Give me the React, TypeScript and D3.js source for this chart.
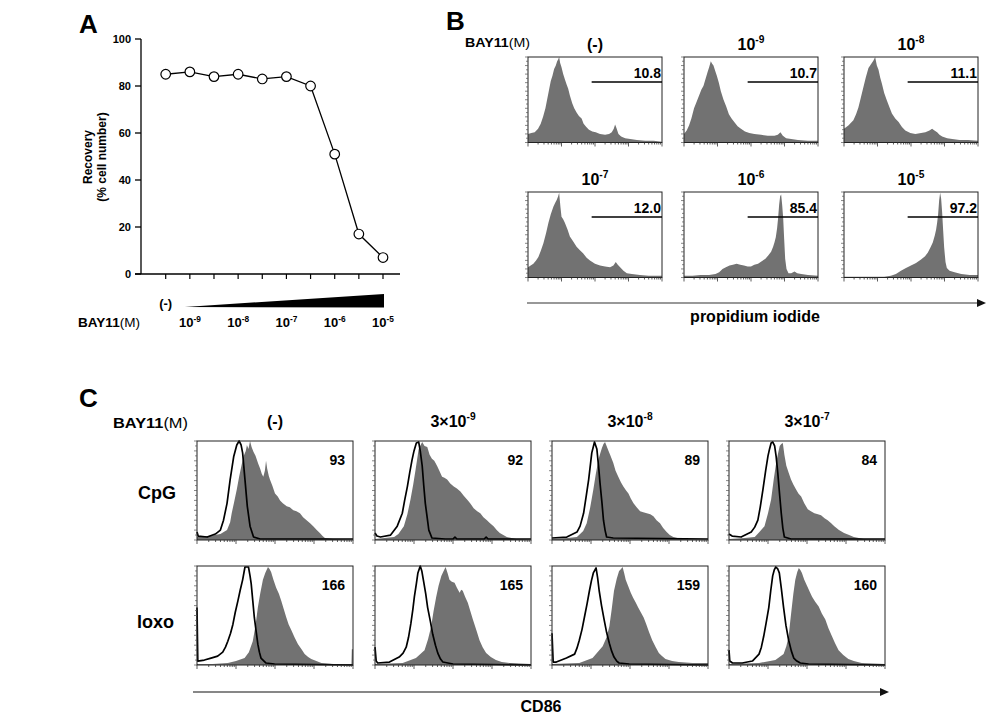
import React from "react";
import * as d3 from "d3";

const FONT = "'Liberation Sans', Arial, Helvetica, sans-serif";

// ---------- Panel A data ----------
const bayConc = [0, 1e-9, 3e-9, 1e-8, 3e-8, 1e-7, 3e-7, 1e-6, 3e-6, 1e-5];
const recovery = [85, 86, 84, 85, 83, 84, 80, 51, 17, 7];
const recoveryTicks = [0, 20, 40, 60, 80, 100];

// ---------- Panel B data (PI histograms: [log decade, % of max]) ----------
const piTitles = ["(-)", "-9", "-8", "-7", "-6", "-5"];
const piGates = ["10.8", "10.7", "11.1", "12.0", "85.4", "97.2"];
const piGateStart = 1.9;
const piNone = [[0,10],[0.1,11],[0.2,12],[0.3,16],[0.38,22],[0.45,30],[0.52,40],[0.58,52],[0.63,62],[0.68,72],[0.73,78],[0.78,86],[0.83,90],[0.87,95],[0.9,97],[0.93,100],[0.96,93],[1.0,88],[1.05,80],[1.1,74],[1.15,68],[1.2,63],[1.25,55],[1.32,46],[1.38,40],[1.45,35],[1.52,31],[1.6,28],[1.66,22],[1.74,18],[1.82,15],[1.92,13],[2.02,12],[2.15,10],[2.3,9],[2.42,10],[2.5,12],[2.56,16],[2.6,21],[2.64,17],[2.7,10],[2.78,7],[2.9,5],[3.05,4],[3.25,3],[3.5,2],[3.75,2],[4,1]];
const pi9 = [[0,10],[0.08,14],[0.15,20],[0.22,28],[0.3,40],[0.38,48],[0.45,55],[0.52,62],[0.58,66],[0.64,74],[0.7,82],[0.75,88],[0.8,95],[0.84,92],[0.88,90],[0.93,84],[0.98,78],[1.04,70],[1.1,60],[1.18,50],[1.26,42],[1.34,33],[1.42,28],[1.5,24],[1.6,19],[1.7,16],[1.82,13],[1.95,11],[2.1,10],[2.3,9],[2.5,8],[2.7,8],[2.8,9],[2.88,12],[2.95,8],[3.05,5],[3.2,4],[3.4,3],[3.7,2],[4,2]];
const pi8 = [[0,16],[0.13,20],[0.28,26],[0.36,33],[0.43,41],[0.5,52],[0.58,65],[0.65,76],[0.73,87],[0.78,90],[0.83,93],[0.88,96],[0.93,100],[0.98,90],[1.03,85],[1.08,76],[1.13,69],[1.2,58],[1.28,49],[1.36,41],[1.43,34],[1.53,28],[1.63,24],[1.73,18],[1.83,14],[1.98,11],[2.13,10],[2.3,11],[2.43,12],[2.55,14],[2.63,16],[2.7,14],[2.78,12],[2.85,9],[2.93,7],[3.08,5],[3.23,4],[3.45,3],[3.7,3],[4,2]];
const pi7 = [[0,12],[0.08,14],[0.16,16],[0.24,20],[0.31,24],[0.38,31],[0.46,40],[0.54,52],[0.61,64],[0.68,74],[0.76,83],[0.82,88],[0.86,91],[0.9,95],[0.93,99],[0.97,82],[1.0,71],[1.05,68],[1.1,64],[1.18,56],[1.25,48],[1.35,42],[1.45,36],[1.55,32],[1.65,28],[1.75,23],[1.85,20],[2.0,16],[2.15,14],[2.3,13],[2.45,12],[2.55,14],[2.62,18],[2.68,15],[2.75,12],[2.85,8],[2.95,5],[3.1,4],[3.34,3],[3.6,2],[4,2]];
const pi6 = [[0,2],[0.25,2],[0.5,3],[0.75,3],[0.94,4],[1.05,6],[1.15,10],[1.25,12],[1.36,14],[1.46,15],[1.57,16],[1.68,15],[1.79,14],[1.9,13],[2.0,13],[2.1,15],[2.21,16],[2.32,19],[2.43,22],[2.52,26],[2.6,30],[2.66,36],[2.7,41],[2.74,47],[2.78,58],[2.81,70],[2.84,85],[2.87,95],[2.9,97],[2.93,85],[2.96,70],[2.99,45],[3.02,22],[3.06,10],[3.12,5],[3.2,5],[3.3,7],[3.38,5],[3.5,4],[3.7,3],[4,2]];
const pi5 = [[0,1],[0.5,1],[1.0,1],[1.2,1],[1.4,2],[1.55,4],[1.7,8],[1.85,11],[2.0,14],[2.15,17],[2.3,21],[2.42,25],[2.5,29],[2.58,35],[2.65,41],[2.71,49],[2.75,56],[2.78,64],[2.81,74],[2.84,90],[2.87,99],[2.9,92],[2.93,76],[2.96,55],[2.99,35],[3.03,18],[3.07,11],[3.15,8],[3.3,6],[3.5,4],[3.75,3],[4,3]];
const piHists = [piNone, pi9, pi8, pi7, pi6, pi5];

// ---------- Panel C data (CD86 histograms) ----------
const cdTitles = ["(-)", "-9", "-8", "-7"];
const cdRows = ["CpG", "loxo"];
const cdMfiCpG = ["93", "92", "89", "84"];
const cdMfiLoxo = ["166", "165", "159", "160"];
const cpgNoneFill = [[0,3],[0.3,4],[0.6,6],[0.77,10],[0.85,18],[0.89,27],[0.95,38],[1.02,51],[1.08,64],[1.15,77],[1.2,85],[1.25,90],[1.28,96],[1.32,92],[1.36,100],[1.4,94],[1.45,89],[1.5,85],[1.57,77],[1.62,72],[1.66,67],[1.7,64],[1.74,70],[1.77,80],[1.8,72],[1.84,65],[1.87,61],[1.93,55],[2.0,47],[2.07,44],[2.13,40],[2.2,37],[2.3,34],[2.38,33],[2.47,30],[2.55,29],[2.64,27],[2.72,23],[2.81,20],[2.9,17],[2.98,14],[3.07,10],[3.15,7],[3.22,4],[3.28,2],[3.49,1],[4,0]];
const cpgNoneCtrl = [[0,8],[0.03,4],[0.26,3],[0.47,6],[0.6,10],[0.68,20],[0.77,37],[0.85,61],[0.94,84],[1.02,96],[1.08,100],[1.13,96],[1.17,88],[1.23,61],[1.29,34],[1.36,14],[1.45,3],[1.62,1],[4,1]];
const cpg9Fill = [[0,1],[0.49,3],[0.6,6],[0.74,14],[0.83,26],[0.91,41],[0.98,56],[1.04,71],[1.12,92],[1.17,96],[1.21,99],[1.27,95],[1.34,94],[1.4,86],[1.46,82],[1.52,80],[1.59,75],[1.65,70],[1.72,64],[1.78,63],[1.85,61],[1.93,57],[2.02,54],[2.1,52],[2.19,49],[2.27,45],[2.36,41],[2.44,37],[2.53,32],[2.62,29],[2.7,27],[2.78,23],[2.87,20],[2.95,17],[3.04,14],[3.12,10],[3.2,7],[3.29,5],[3.38,3],[3.5,2],[3.62,1],[4,0]];
const cpg9Ctrl = [[0,7],[0.05,4],[0.14,3],[0.4,5],[0.57,14],[0.7,27],[0.76,40],[0.83,54],[0.89,68],[0.95,81],[1.0,90],[1.06,98],[1.12,99],[1.16,90],[1.21,75],[1.25,55],[1.29,37],[1.34,22],[1.38,10],[1.46,2],[1.8,1],[2.0,1],[2.05,3],[2.1,1],[2.8,1],[2.85,3],[2.9,1],[4,1]];
const cpg8Fill = [[0,1],[0.4,2],[0.64,3],[0.8,9],[0.89,17],[0.98,33],[1.06,51],[1.12,66],[1.19,81],[1.24,88],[1.28,93],[1.32,97],[1.36,99],[1.4,95],[1.45,90],[1.5,85],[1.57,78],[1.63,70],[1.7,64],[1.77,58],[1.83,54],[1.9,50],[1.96,47],[2.02,42],[2.09,37],[2.17,33],[2.26,29],[2.34,28],[2.43,27],[2.52,26],[2.6,24],[2.68,20],[2.77,17],[2.85,12],[2.94,8],[3.02,5],[3.11,3],[3.32,1],[4,0]];
const cpg8Ctrl = [[0,2],[0.38,3],[0.64,8],[0.72,14],[0.81,27],[0.88,45],[0.94,61],[1.02,88],[1.09,99],[1.15,92],[1.2,72],[1.23,58],[1.28,38],[1.32,20],[1.36,10],[1.4,3],[1.57,2],[4,1]];
const cpg7Fill = [[0,1],[0.4,2],[0.66,3],[0.78,8],[0.91,14],[1.0,27],[1.08,41],[1.15,62],[1.21,78],[1.26,88],[1.3,95],[1.34,97],[1.38,98],[1.42,86],[1.47,75],[1.53,68],[1.59,61],[1.65,56],[1.72,51],[1.78,47],[1.85,44],[1.93,37],[2.02,31],[2.1,29],[2.19,27],[2.28,26],[2.36,25],[2.45,22],[2.53,20],[2.62,17],[2.7,14],[2.82,10],[2.95,7],[3.08,5],[3.2,3],[3.46,1],[4,0]];
const cpg7Ctrl = [[0,6],[0.08,4],[0.31,3],[0.57,8],[0.66,13],[0.74,20],[0.8,33],[0.87,51],[0.94,70],[1.0,85],[1.04,92],[1.08,98],[1.12,99],[1.17,95],[1.21,84],[1.25,68],[1.3,45],[1.34,27],[1.38,12],[1.42,3],[1.59,1],[4,1]];
const loxoNoneFill = [[0,1],[0.4,1],[0.79,2],[1.0,4],[1.22,7],[1.33,13],[1.43,24],[1.5,40],[1.56,58],[1.62,72],[1.69,86],[1.75,93],[1.82,99],[1.86,97],[1.9,94],[1.96,86],[2.03,78],[2.1,72],[2.16,65],[2.22,57],[2.29,48],[2.35,41],[2.42,35],[2.5,28],[2.59,21],[2.68,16],[2.76,11],[2.85,8],[2.93,6],[3.06,4],[3.19,2],[3.5,1],[3.85,1],[3.96,1],[3.97,16],[4,16]];
const loxoNoneCtrl = [[0,58],[0.02,4],[0.19,5],[0.36,7],[0.53,9],[0.66,13],[0.73,18],[0.79,24],[0.86,32],[0.92,41],[0.98,53],[1.05,65],[1.11,76],[1.17,86],[1.23,99],[1.32,99],[1.36,90],[1.39,82],[1.43,65],[1.47,48],[1.52,33],[1.56,21],[1.6,13],[1.64,7],[1.77,2],[1.99,1],[4,0]];
const loxo9Fill = [[0,1],[0.71,2],[1.05,7],[1.27,15],[1.36,26],[1.44,39],[1.5,54],[1.57,69],[1.63,80],[1.7,90],[1.76,95],[1.81,99],[1.86,93],[1.91,86],[1.97,84],[2.04,83],[2.1,78],[2.17,73],[2.21,76],[2.25,75],[2.31,69],[2.38,63],[2.44,55],[2.51,46],[2.6,35],[2.68,25],[2.76,18],[2.85,12],[2.97,8],[3.1,5],[3.25,3],[3.45,2],[4,1]];
const loxo9Ctrl = [[0,18],[0.03,4],[0.07,2],[0.37,3],[0.62,8],[0.72,12],[0.8,18],[0.86,28],[0.92,42],[0.97,56],[1.01,69],[1.06,82],[1.1,93],[1.16,100],[1.2,95],[1.24,86],[1.3,72],[1.35,58],[1.42,44],[1.48,31],[1.55,20],[1.61,12],[1.68,6],[1.74,3],[2.0,1],[4,0]];
const loxo8Fill = [[0,1],[0.7,2],[1.04,7],[1.3,19],[1.4,28],[1.47,39],[1.53,56],[1.59,75],[1.66,87],[1.72,95],[1.77,97],[1.81,99],[1.85,93],[1.89,86],[1.95,80],[2.02,73],[2.08,68],[2.15,63],[2.21,58],[2.28,53],[2.35,48],[2.41,42],[2.49,33],[2.57,25],[2.66,18],[2.74,12],[2.82,9],[2.91,6],[3.08,4],[3.25,3],[3.6,2],[4,2]];
const loxo8Ctrl = [[0,32],[0.03,3],[0.11,3],[0.37,7],[0.58,11],[0.64,17],[0.7,25],[0.77,36],[0.83,48],[0.9,62],[0.96,75],[1.01,85],[1.06,93],[1.13,98],[1.17,88],[1.21,75],[1.27,60],[1.34,45],[1.4,33],[1.47,22],[1.53,14],[1.59,8],[1.66,4],[1.72,2],[1.98,1],[4,0]];
const loxo7Fill = [[0,1],[0.77,2],[1.19,5],[1.4,11],[1.47,19],[1.53,29],[1.57,44],[1.61,58],[1.65,72],[1.7,86],[1.75,94],[1.79,98],[1.83,96],[1.87,93],[1.93,86],[2.0,80],[2.07,74],[2.13,69],[2.21,64],[2.3,59],[2.38,52],[2.47,46],[2.55,37],[2.64,29],[2.72,22],[2.81,15],[2.93,10],[3.06,6],[3.2,4],[3.4,2],[4,1]];
const loxo7Ctrl = [[0,15],[0.02,4],[0.09,2],[0.34,2],[0.6,4],[0.77,11],[0.83,18],[0.89,29],[0.95,42],[1.02,58],[1.07,75],[1.12,90],[1.16,96],[1.2,99],[1.25,97],[1.29,93],[1.34,78],[1.4,58],[1.46,40],[1.53,25],[1.6,14],[1.66,7],[1.74,4],[1.83,2],[2.04,1],[4,0]];
const cdFill = [[cpgNoneFill, cpg9Fill, cpg8Fill, cpg7Fill], [loxoNoneFill, loxo9Fill, loxo8Fill, loxo7Fill]];
const cdCtrl = [[cpgNoneCtrl, cpg9Ctrl, cpg8Ctrl, cpg7Ctrl], [loxoNoneCtrl, loxo9Ctrl, loxo8Ctrl, loxo7Ctrl]];

const GREY = "#727272";

function Hist({ x, y, w, h, fill, ctrl }: any) {
  const xs = d3.scaleLinear().domain([0, 4]).range([x, x + w]);
  const ys = d3.scaleLinear().domain([0, 100]).range([y + h, y]);
  const area = d3.area<any>().x((d) => xs(d[0])).y0(y + h).y1((d) => ys(d[1]));
  const line = d3.line<any>().x((d) => xs(d[0])).y((d) => ys(d[1]));
  const bottomTicks: any[] = [];
  for (let i = 0; i < 4; i++) {
    for (let k = 1; k <= 9; k++) bottomTicks.push({ v: i + Math.log10(k), major: k === 1 });
  }
  bottomTicks.push({ v: 4, major: true });
  const leftTicks = d3.range(0, 101, 5);
  return (
    <g>
      {fill && <path d={area(fill) || ""} fill={GREY} stroke="none" />}
      {ctrl && <path d={line(ctrl) || ""} fill="none" stroke="#000" strokeWidth={1.7} strokeLinejoin="round" />}
      <rect x={x} y={y} width={w} height={h} fill="none" stroke="#222" strokeWidth={1} />
      {bottomTicks.map((t, i) => (
        <line key={"b" + i} x1={xs(t.v)} x2={xs(t.v)} y1={y + h} y2={y + h + (t.major ? 4 : 2)} stroke="#333" strokeWidth={0.8} />
      ))}
      {leftTicks.map((t, i) => (
        <line key={"l" + i} x1={x} x2={x - (t % 10 === 0 ? 3 : 2)} y1={ys(t)} y2={ys(t)} stroke="#555" strokeWidth={0.7} />
      ))}
    </g>
  );
}

function Pow({ base = "10", exp, size, pre = "" }: any) {
  return (
    <>
      <tspan>{pre + base}</tspan>
      <tspan dy={-size * 0.42} fontSize={size * 0.64}>{exp}</tspan>
    </>
  );
}

function PanelA() {
  const xA = d3.scalePoint<number>().domain(d3.range(bayConc.length)).range([165.7, 383]);
  const yA = d3.scaleLinear().domain([0, 100]).range([274, 39]);
  const pts = recovery.map((v, i) => [xA(i) as number, yA(v)]);
  const line = d3.line<any>()(pts as any);
  const axisX0 = 141;
  const labelled = bayConc
    .map((c, i) => ({ c, i }))
    .filter((d) => d.c > 0 && Math.abs(d.c / Math.pow(10, Math.round(Math.log10(d.c))) - 1) < 1e-6);
  const wx0 = (xA(1) as number) - 5;
  const wx1 = (xA(9) as number) + 1;
  return (
    <g fontFamily={FONT} fontWeight="bold">
      <text x={79} y={33} fontSize={26}>A</text>
      <line x1={axisX0} x2={axisX0} y1={yA(100)} y2={yA(0)} stroke="#000" strokeWidth={1.3} />
      <line x1={axisX0 - 6} x2={400} y1={yA(0)} y2={yA(0)} stroke="#000" strokeWidth={1.3} />
      {recoveryTicks.map((t) => (
        <g key={t}>
          <line x1={axisX0 - 6} x2={axisX0} y1={yA(t)} y2={yA(t)} stroke="#000" strokeWidth={1.3} />
          <text x={131} y={yA(t) + 4} fontSize={11} textAnchor="end">{t}</text>
        </g>
      ))}
      {bayConc.map((c, i) => (
        <line key={i} x1={xA(i)} x2={xA(i)} y1={yA(0)} y2={yA(0) + 5} stroke="#000" strokeWidth={1.2} />
      ))}
      <path d={line || ""} fill="none" stroke="#000" strokeWidth={1.3} />
      {pts.map((p, i) => (
        <circle key={i} cx={p[0]} cy={p[1]} r={4.8} fill="#fff" stroke="#000" strokeWidth={1.2} />
      ))}
      <text transform="translate(91.5,157) rotate(-90)" fontSize={12} textAnchor="middle">Recovery</text>
      <text transform="translate(106,157) rotate(-90)" fontSize={12} textAnchor="middle">(% cell number)</text>
      <polygon points={`${wx0},307 ${wx1},294 ${wx1},307.5`} fill="#000" />
      <text x={xA(0)} y={308} fontSize={13} textAnchor="middle">(-)</text>
      <text x={78} y={327} fontSize={12} textLength={62} lengthAdjust="spacingAndGlyphs">
        BAY11<tspan fontWeight="normal">(M)</tspan>
      </text>
      {labelled.map((d) => (
        <text key={d.i} x={xA(d.i)} y={327} fontSize={13} textAnchor="middle">
          <Pow exp={String(Math.round(Math.log10(d.c)))} size={13} />
        </text>
      ))}
    </g>
  );
}

function PanelB() {
  const lefts = [528, 684, 844];
  const tops = [57, 192];
  const w = 134, h = 85.5;
  return (
    <g fontFamily={FONT} fontWeight="bold">
      <text x={446} y={30} fontSize={26}>B</text>
      <text x={465} y={47} fontSize={12} textLength={65} lengthAdjust="spacingAndGlyphs">
        BAY11<tspan fontWeight="normal">(M)</tspan>
      </text>
      {piHists.map((data, i) => {
        const x = lefts[i % 3];
        const y = tops[Math.floor(i / 3)];
        const xs = d3.scaleLinear().domain([0, 4]).range([x, x + w]);
        return (
          <g key={i}>
            <Hist x={x} y={y} w={w} h={h} fill={data} />
            <text x={x + w / 2} y={y - 7} fontSize={16} textAnchor="middle">
              {piTitles[i] === "(-)" ? "(-)" : <Pow exp={piTitles[i]} size={16} />}
            </text>
            <line x1={xs(piGateStart)} x2={xs(4)} y1={y + 25} y2={y + 25} stroke="#000" strokeWidth={1.4} />
            <text x={x + w - 1} y={y + 21} fontSize={14} textAnchor="end">{piGates[i]}</text>
          </g>
        );
      })}
      <line x1={527} x2={978} y1={303} y2={303} stroke="#333" strokeWidth={1.2} />
      <polygon points="977,299 986,303 977,307" fill="#111" />
      <text x={755} y={322} fontSize={16} textAnchor="middle">propidium iodide</text>
    </g>
  );
}

function PanelC() {
  const lefts = [197, 375, 552, 729];
  const tops = [441, 566];
  const w = 156, h = 99;
  const rowLabelX = [157, 155.5];
  const rowLabelY = [499, 628];
  const mfi = [cdMfiCpG, cdMfiLoxo];
  return (
    <g fontFamily={FONT} fontWeight="bold">
      <text x={79} y={407} fontSize={26}>C</text>
      <text x={113} y={428} fontSize={14} textLength={75} lengthAdjust="spacingAndGlyphs">
        BAY11<tspan fontWeight="normal">(M)</tspan>
      </text>
      {cdTitles.map((t, j) => (
        <text key={j} x={lefts[j] + w / 2} y={427} fontSize={16} textAnchor="middle">
          {t === "(-)" ? "(-)" : <Pow pre="3×" exp={t} size={16} />}
        </text>
      ))}
      {cdRows.map((r, ri) => (
        <g key={r}>
          <text x={rowLabelX[ri]} y={rowLabelY[ri]} fontSize={18} textAnchor="middle">{r}</text>
          {lefts.map((x, j) => (
            <g key={j}>
              <Hist x={x} y={tops[ri]} w={w} h={h} fill={cdFill[ri][j]} ctrl={cdCtrl[ri][j]} />
              <text x={x + w - 8} y={tops[ri] + 24} fontSize={14} textAnchor="end">{mfi[ri][j]}</text>
            </g>
          ))}
        </g>
      ))}
      <line x1={193} x2={881} y1={692} y2={692} stroke="#111" strokeWidth={1.2} />
      <polygon points="880,688 889,692 880,696" fill="#111" />
      <text x={541} y={712} fontSize={16} textAnchor="middle">CD86</text>
    </g>
  );
}

export default function App() {
  return (
    <svg width={1000} height={716} viewBox="0 0 1000 716" style={{ position: "absolute", left: 0, top: 0, background: "#fff" }}>
      <rect x={0} y={0} width={1000} height={716} fill="#fff" />
      <PanelA />
      <PanelB />
      <PanelC />
    </svg>
  );
}
